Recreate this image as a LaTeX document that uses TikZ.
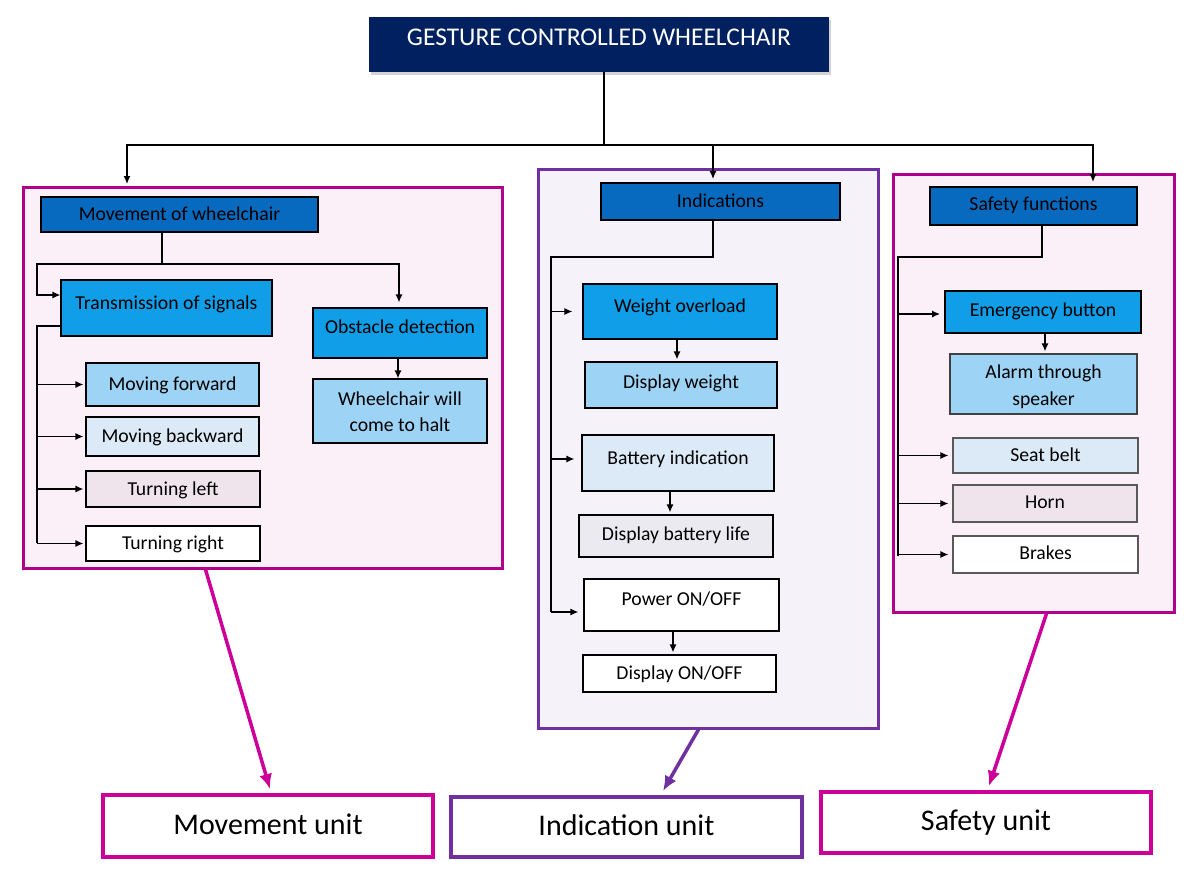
\documentclass[tikz,border=0pt]{standalone}
\usepackage{fontspec}
\setmainfont{Carlito}
\usetikzlibrary{arrows.meta,calc,shadows}
\definecolor{navy}{RGB}{0,32,96}
\definecolor{dkblue}{RGB}{8,106,190}
\definecolor{brblue}{RGB}{16,158,232}
\definecolor{ltblue}{RGB}{157,211,245}
\definecolor{vlblue}{RGB}{220,234,248}
\definecolor{mauve}{RGB}{240,228,236}
\definecolor{ltgrey}{RGB}{235,234,240}
\definecolor{pinkbg}{RGB}{251,240,248}
\definecolor{lavbg}{RGB}{245,243,249}
\definecolor{mag}{RGB}{176,0,140}
\definecolor{magb}{RGB}{204,0,153}
\definecolor{purp}{RGB}{112,48,160}
\begin{document}
\begin{tikzpicture}[x=1pt,y=-1pt,
  box/.style={draw=black, line width=1.2pt, rectangle, inner sep=0pt, align=center,
    font=\fontsize{19.7}{26.5}\selectfont, text height=14pt, text depth=2pt},
  txt/.style={inner sep=0pt, align=center, font=\fontsize{19.7}{26.5}\selectfont},
  up/.style={text depth=#1},
  outer/.style={draw, line width=3pt, rectangle, inner sep=0pt},
  unit/.style={draw, line width=4pt, fill=white, rectangle, inner sep=0pt,
    font=\fontsize{30}{36}\selectfont, text height=22pt, text depth=6pt},
  conn/.style={draw=black, line width=1.3pt},
  arr/.style={conn, -{Latex[length=8pt,width=7pt]}},
  big/.style={line width=3.5pt, -{Latex[length=15pt,width=13pt]}}
]
\useasboundingbox (0,0) rectangle (1195,886);

% title
\node[rectangle, fill=navy, inner sep=0pt, minimum width=460pt, minimum height=55pt,
  text=white, font=\fontsize{25.5}{30}\selectfont, text height=18pt, text depth=16pt,
  drop shadow={shadow xshift=2pt, shadow yshift=-3pt, opacity=0.35}]
  (title) at (599,44.5) {GESTURE CONTROLLED WHEELCHAIR};

% outer groups
\node[outer, draw=mag, fill=pinkbg, minimum width=479pt, minimum height=381pt] (mvb) at (262.5,377.5) {};
\node[outer, draw=purp, fill=lavbg, minimum width=340pt, minimum height=559pt] (indb) at (708,448.5) {};
\node[outer, draw=mag, fill=pinkbg, minimum width=281pt, minimum height=438pt] (sfb) at (1033.5,393) {};

% movement group
\node[box, fill=dkblue, minimum width=277pt, minimum height=35pt] (mow) at (179.5,214.5) {Movement of wheelchair};
\node[box, fill=brblue, minimum width=211pt, minimum height=56pt, up=12pt] (tos) at (166.5,308) {Transmission of signals};
\node[box, fill=brblue, minimum width=174pt, minimum height=50pt, up=14pt] (obs) at (400,333) {Obstacle detection};
\node[box, fill=ltblue, minimum width=174pt, minimum height=64pt] (halt) at (400,411) {};
\node[txt] (haltt) at ($(halt.center)+(0,0.5)$) {Wheelchair will\\come to halt};
\node[box, fill=ltblue, minimum width=173pt, minimum height=43pt] (mf) at (172.5,384.5) {Moving forward};
\node[box, fill=vlblue, minimum width=173pt, minimum height=39pt] (mb) at (172.5,436.5) {Moving backward};
\node[box, fill=mauve, minimum width=174pt, minimum height=36pt] (tl) at (173,489) {Turning left};
\node[box, fill=white, minimum width=174pt, minimum height=35pt] (tr) at (173,543.5) {Turning right};

% indication group
\node[box, fill=dkblue, minimum width=239pt, minimum height=37pt] (ind) at (720.5,201.5) {Indications};
\node[box, fill=brblue, minimum width=194pt, minimum height=55pt, up=13pt] (wo) at (680,311.5) {Weight overload};
\node[box, fill=ltblue, minimum width=192pt, minimum height=46pt, up=8pt] (dw) at (681,385) {Display weight};
\node[box, fill=vlblue, minimum width=192pt, minimum height=56pt, up=12pt] (bi) at (678,463) {Battery indication};
\node[box, fill=ltgrey, minimum width=194pt, minimum height=42pt, up=5pt] (dbl) at (676,536) {Display battery life};
\node[box, fill=white, minimum width=195pt, minimum height=52pt, up=14pt] (pw) at (681.5,605) {Power ON/OFF};
\node[box, fill=white, minimum width=193pt, minimum height=37pt] (don) at (679.5,673.5) {Display ON/OFF};

% safety group
\node[box, fill=dkblue, minimum width=207pt, minimum height=38pt, up=5pt] (sf) at (1033.5,206) {Safety functions};
\node[box, fill=brblue, line width=1.8pt, minimum width=196pt, minimum height=42pt, up=5pt] (eb) at (1043,312) {Emergency button};
\node[box, fill=ltblue, draw=black!75, minimum width=187pt, minimum height=60pt] (al) at (1043.5,384) {};
\node[txt] (alt) at ($(al.center)+(0,2.5)$) {Alarm through\\speaker};
\node[box, fill=vlblue, draw=black!65, minimum width=185pt, minimum height=35pt] (sb) at (1045.5,455.5) {Seat belt};
\node[box, fill=mauve, draw=black!65, minimum width=184pt, minimum height=37pt, up=4pt] (hn) at (1045,503.5) {Horn};
\node[box, fill=white, draw=black!65, minimum width=185pt, minimum height=37pt, up=4pt] (br) at (1045.5,554.5) {Brakes};

% bottom units
\node[unit, draw=magb, minimum width=330pt, minimum height=62pt] (mvu) at (268,826) {Movement unit};
\node[unit, draw=purp, minimum width=351pt, minimum height=60pt] (inu) at (626.5,827) {Indication unit};
\node[unit, draw=magb, minimum width=330pt, minimum height=61pt] (sfu) at (986,822.5) {Safety unit};

% top connectors
\coordinate (bus) at (604,145);
\coordinate (mvin) at (127,184);
\coordinate (indin) at (713,179);
\coordinate (sfin) at (1093,182);
\draw[conn] (title.south -| bus) -- (bus);
\draw[arr] (bus) -| (mvin);
\draw[arr] (bus) -| (indin);
\draw[arr] (bus) -| (sfin);

% movement connectors
\coordinate (j1) at (162,264);
\coordinate (a1) at (37,264);
\coordinate (a2) at (37,295);
\coordinate (t1) at (37,326);
\coordinate (t2) at (37,543);
\draw[conn] (mow.south -| j1) -- (j1);
\draw[arr] (j1) -- (a1) -- (a2) -- (a2 -| tos.west);
\draw[arr] (j1) -| ($(obs.north)+(-1,-5)$);
\draw[conn] (t1 -| tos.west) -- (t1) -- (t2);
\draw[arr, shorten >=2pt] (mf.west -| t1) -- (mf.west);
\draw[arr, shorten >=2pt] (mb.west -| t1) -- (mb.west);
\draw[arr, shorten >=2pt] (tl.west -| t1) -- (tl.west);
\draw[arr, shorten >=2pt] (tr.west -| t1) -- (tr.west);
\draw[arr] ($(obs.south)+(-2,0)$) -- ($(halt.north)+(-2,0)$);

% indication connectors
\coordinate (m1) at (713,257);
\coordinate (m2) at (551,257);
\coordinate (m3) at (551,612);
\draw[conn] (ind.south -| m1) -- (m1) -- (m2) -- (m3);
\draw[arr, shorten >=10pt] (wo.west -| m2) -- (wo.west);
\draw[arr, shorten >=7pt] ($(bi.west -| m2)+(0,-4)$) -- ($(bi.west)+(0,-4)$);
\draw[arr, shorten >=5pt] (m3) -- (m3 -| pw.west);
\draw[arr, shorten >=2pt] ($(wo.south)+(-3,0)$) -- ($(dw.north)+(-4,0)$);
\draw[arr, shorten >=2pt] ($(bi.south)+(-8,0)$) -- ($(dbl.north)+(-6,0)$);
\draw[arr, shorten >=2pt] ($(pw.south)+(-8.5,0)$) -- ($(don.north)+(-6.5,0)$);

% safety connectors
\coordinate (r1) at (1042,257);
\coordinate (r2) at (898,257);
\coordinate (r3) at (898,556);
\draw[conn] (sf.south -| r1) -- (r1) -- (r2) -- (r3);
\draw[arr, shorten >=4pt] ($(eb.west -| r2)+(0,2)$) -- ($(eb.west)+(0,2)$);
\draw[arr, shorten >=4pt] (sb.west -| r2) -- (sb.west);
\draw[arr, shorten >=4pt] (hn.west -| r2) -- (hn.west);
\draw[arr, shorten >=4pt] (br.west -| r2) -- (br.west);
\draw[arr, shorten >=2pt] ($(eb.south)+(2,0)$) -- ($(al.north)+(1.5,0)$);

% big arrows to units
\draw[big, magb] ($(mvb.south west)+(184,0)$) -- ($(mvu.north west)+(169,-4)$);
\draw[big, purp] ($(indb.south west)+(162,0)$) -- ($(inu.north west)+(214,-4)$);
\draw[big, magb] ($(sfb.south west)+(155,0)$) -- ($(sfu.north west)+(170,-4)$);
\end{tikzpicture}
\end{document}
